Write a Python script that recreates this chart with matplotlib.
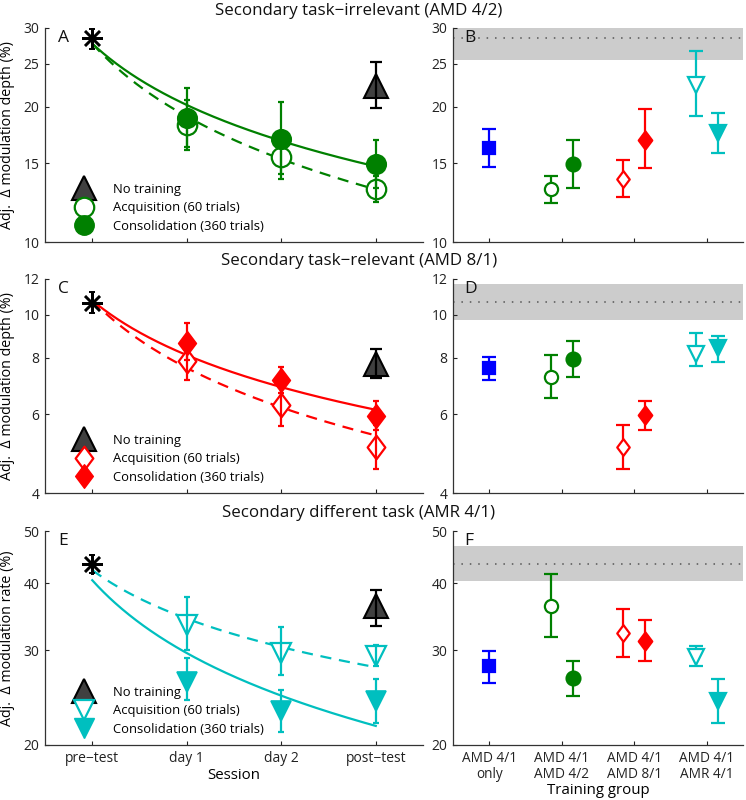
import numpy as np
import matplotlib
matplotlib.use("Agg")
import matplotlib.pyplot as plt
from matplotlib.ticker import FixedLocator, NullLocator, FixedFormatter
from matplotlib.lines import Line2D
from matplotlib.path import Path

plt.rcParams['font.family'] = ['Open Sans', 'DejaVu Sans']

# ---------------- data ----------------
sessions = ["pre\u2212test", "day 1", "day 2", "post\u2212test"]
groups = ["AMD 4/1\nonly", "AMD 4/1\nAMD 4/2", "AMD 4/1\nAMD 8/1", "AMD 4/1\nAMR 4/1"]
panel_titles = ["Secondary task\u2212irrelevant (AMD 4/2)",
                "Secondary task\u2212relevant (AMD 8/1)",
                "Secondary different task (AMR 4/1)"]
ylabels = ["Adj.  \u0394 modulation depth (%)", "Adj.  \u0394 modulation depth (%)",
           "Adj.  \u0394 modulation rate (%)"]
ylims = [(10, 30), (4, 12), (20, 50)]
yticks = [[10, 15, 20, 25, 30], [4, 6, 8, 10, 12], [20, 30, 40, 50]]

# pre-test (asterisk): value, low, high
pre_val = [28.5, 10.6, 43.4]
pre_lo = [26.9, 10.1, 41.8]
pre_hi = [29.9, 11.2, 45.1]

# acquisition (day1, day2, post)
acq_val = [[18.2, 15.5, 13.1], [7.89, 6.28, 5.06], [33.4, 29.6, 29.3]]
acq_lo = [[16.0, 13.8, 12.3], [7.14, 5.64, 4.52], [30.0, 27.0, 28.0]]
acq_hi = [[20.7, 17.4, 14.0], [8.55, 6.95, 5.67], [37.7, 33.2, 30.7]]

# consolidation (day1, day2, post)
con_val = [[18.9, 17.0, 14.9], [8.63, 7.14, 5.95], [26.2, 23.1, 24.1]]
con_lo = [[16.3, 14.2, 13.2], [7.9, 6.7, 5.53], [24.2, 21.1, 22.0]]
con_hi = [[22.0, 20.5, 16.9], [9.57, 7.63, 6.42], [29.0, 25.3, 26.5]]

# no training (post-test)
notr_val = [22.3, 7.75, 36.2]
notr_lo = [19.9, 7.23, 33.3]
notr_hi = [25.2, 8.37, 38.9]

# fitted learning curves: amplitude, exponent (power law in session)
fit_con_amp = [27.7, 10.75, 40.5]
fit_con_exp = [-0.455, -0.405, -0.45]
fit_acq_amp = [27.7, 10.75, 42.3]
fit_acq_exp = [-0.54, -0.50, -0.30]

# right panels: [blue only, green acq, green con, red acq, red con, cyan acq, cyan con]
grp_val = [[16.2, 13.1, 14.9, 13.8, 16.9, 22.4, 17.5],
           [7.59, 7.27, 7.96, 5.06, 5.97, 8.15, 8.41],
           [28.0, 36.3, 26.6, 32.3, 31.2, 29.2, 24.1]]
grp_lo = [[14.7, 12.2, 13.2, 12.6, 14.6, 19.1, 15.8],
          [7.14, 6.5, 7.27, 4.52, 5.53, 7.68, 7.85],
          [26.1, 31.8, 24.7, 29.2, 28.6, 28.0, 22.0]]
grp_hi = [[17.9, 14.0, 16.9, 15.2, 19.8, 26.7, 19.4],
          [8.05, 8.12, 8.71, 5.67, 6.42, 9.11, 8.96],
          [29.9, 41.6, 28.7, 35.8, 34.1, 30.6, 26.5]]
grp_pos = [1, 1.85, 2.15, 2.85, 3.15, 3.85, 4.15]

# pre-test band (mean, low, high)
band_mid = [28.5, 10.65, 43.5]
band_lo = [25.5, 9.72, 40.4]
band_hi = [31.0, 11.7, 46.9]

# ---------------- styles ----------------
GREEN = '#008000'
RED = '#FF0000'
CYAN = '#00BFBF'
BLUE = '#0000FF'
DARK = '#404040'
diamond = Path([(0, 1), (0.75, 0), (0, -1), (-0.75, 0), (0, 1)],
               [Path.MOVETO, Path.LINETO, Path.LINETO, Path.LINETO, Path.CLOSEPOLY])
asterisk = (8, 2, 0)
panel_color = [GREEN, RED, CYAN]
panel_marker = ['o', diamond, 'v']
panel_ms = [14, 17, 15]
grp_colors = [BLUE, GREEN, GREEN, RED, RED, CYAN, CYAN]
grp_markers = ['s', 'o', 'o', diamond, diamond, 'v', 'v']
grp_filled = [True, False, True, False, True, False, True]
grp_ms = [9, 9.5, 10, 12, 13, 11, 11]
letters_left = ['A', 'C', 'E']
letters_right = ['B', 'D', 'F']

W, H = 746, 800
fig = plt.figure(figsize=(W / 100, H / 100), dpi=100)

tops = [28, 279, 531]
ah = 214
title_y = [11, 261, 513]
title_x = 359


def set_log_axis(ax, i):
    ax.set_yscale('log')
    ax.set_ylim(*ylims[i])
    ax.yaxis.set_major_locator(FixedLocator(yticks[i]))
    ax.yaxis.set_major_formatter(FixedFormatter([str(t) for t in yticks[i]]))
    ax.yaxis.set_minor_locator(NullLocator())
    ax.set_xlim(0.5, 4.5)
    for s in ['top', 'right']:
        ax.spines[s].set_visible(False)
    for s in ['left', 'bottom']:
        ax.spines[s].set_color('#333333')
        ax.spines[s].set_linewidth(0.9)
    ax.tick_params(direction='in', length=3, width=0.8, labelsize=10,
                   colors='#222222', pad=4)


for i in range(3):
    bottom = 1 - (tops[i] + ah) / H
    axL = fig.add_axes([45 / W, bottom, 378 / W, ah / H])
    axR = fig.add_axes([453 / W, bottom, 290 / W, ah / H])
    set_log_axis(axL, i)
    set_log_axis(axR, i)
    c = panel_color[i]
    mk = panel_marker[i]
    ms = panel_ms[i]

    # curves
    xx = np.linspace(1, 4, 200)
    axL.plot(xx, fit_con_amp[i] * xx ** fit_con_exp[i], '-', color=c, lw=1.6, zorder=2)
    axL.plot(xx, fit_acq_amp[i] * xx ** fit_acq_exp[i], '--', color=c, lw=1.6,
             dashes=(5, 3.5), zorder=2)

    xs = np.array([2, 3, 4])
    # acquisition (open)
    av = np.array(acq_val[i])
    axL.plot(xs, av, linestyle='none', marker=mk, ms=ms, mfc='white', mec=c, mew=1.6, zorder=3)
    axL.errorbar(xs, av, yerr=[av - np.array(acq_lo[i]), np.array(acq_hi[i]) - av],
                 fmt='none', ecolor=c, elinewidth=1.6, capsize=2, capthick=1.6, zorder=4)
    # consolidation (filled)
    cv = np.array(con_val[i])
    axL.plot(xs, cv, linestyle='none', marker=mk, ms=ms, mfc=c, mec=c, mew=1.2, zorder=3)
    axL.errorbar(xs, cv, yerr=[cv - np.array(con_lo[i]), np.array(con_hi[i]) - cv],
                 fmt='none', ecolor=c, elinewidth=1.6, capsize=2, capthick=1.6, zorder=4)
    # pre-test asterisk
    axL.plot([1], [pre_val[i]], linestyle='none', marker=asterisk, ms=15, mec='black',
             mew=1.8, zorder=5)
    axL.errorbar([1], [pre_val[i]], yerr=[[pre_val[i] - pre_lo[i]], [pre_hi[i] - pre_val[i]]],
                 fmt='none', ecolor='black', elinewidth=1.4, capsize=2.5, capthick=1.4, zorder=5)
    # no training
    axL.plot([4], [notr_val[i]], linestyle='none', marker='^', ms=17, mfc=DARK, mec='black',
             mew=1.5, zorder=5)
    axL.errorbar([4], [notr_val[i]], yerr=[[notr_val[i] - notr_lo[i]], [notr_hi[i] - notr_val[i]]],
                 fmt='none', ecolor='black', elinewidth=1.6, capsize=4, capthick=1.6, zorder=6)

    # legend
    handles = [Line2D([], [], linestyle='none', marker='^', ms=17, mfc=DARK, mec='black', mew=1.5),
               Line2D([], [], linestyle='none', marker=mk, ms=ms, mfc='white', mec=c, mew=1.6),
               Line2D([], [], linestyle='none', marker=mk, ms=ms, mfc=c, mec=c)]
    axL.legend(handles, ["No training", "Acquisition (60 trials)", "Consolidation (360 trials)"],
               loc='lower left', bbox_to_anchor=(0.058, 0.0), frameon=False, fontsize=9.4,
               handlelength=1.2, handletextpad=1.65, labelspacing=0.42, borderaxespad=0.3)

    axL.text(0.035, 0.955, letters_left[i], transform=axL.transAxes, fontsize=12.5,
             va='center', ha='left', color='#111111')
    axL.set_ylabel(ylabels[i], fontsize=10.3, labelpad=6)
    axL.set_xticks([1, 2, 3, 4])

    # right panel
    axR.axhspan(band_lo[i], band_hi[i], color='#CCCCCC', lw=0, zorder=0)
    axR.axhline(band_mid[i], color='#555555', lw=1.1, linestyle=(0, (1, 4.5)), zorder=1)
    for k in range(7):
        v = grp_val[i][k]
        col = grp_colors[k]
        axR.errorbar([grp_pos[k]], [v], yerr=[[v - grp_lo[i][k]], [grp_hi[i][k] - v]],
                     fmt='none', ecolor=col, elinewidth=1.6, capsize=5, capthick=1.6, zorder=3)
        axR.plot([grp_pos[k]], [v], linestyle='none', marker=grp_markers[k], ms=grp_ms[k],
                 mfc=col if grp_filled[k] else 'white', mec=col, mew=1.6, zorder=4)
    axR.text(0.04, 0.955, letters_right[i], transform=axR.transAxes, fontsize=12.5,
             va='center', ha='left', color='#111111')
    axR.set_xticks([1, 2, 3, 4])

    if i == 2:
        axL.set_xticklabels(sessions, fontsize=10)
        axL.set_xlabel("Session", fontsize=10.8, labelpad=2)
        axR.set_xticklabels(groups, fontsize=9.8, linespacing=1.1)
        axR.set_xlabel("Training group", fontsize=10.8, labelpad=1)
    else:
        axL.set_xticklabels([])
        axR.set_xticklabels([])

    fig.text(title_x / W, 1 - title_y[i] / H, panel_titles[i], ha='center', va='center',
             fontsize=12.2, color='#111111')

fig.savefig("out.png", dpi=100)
